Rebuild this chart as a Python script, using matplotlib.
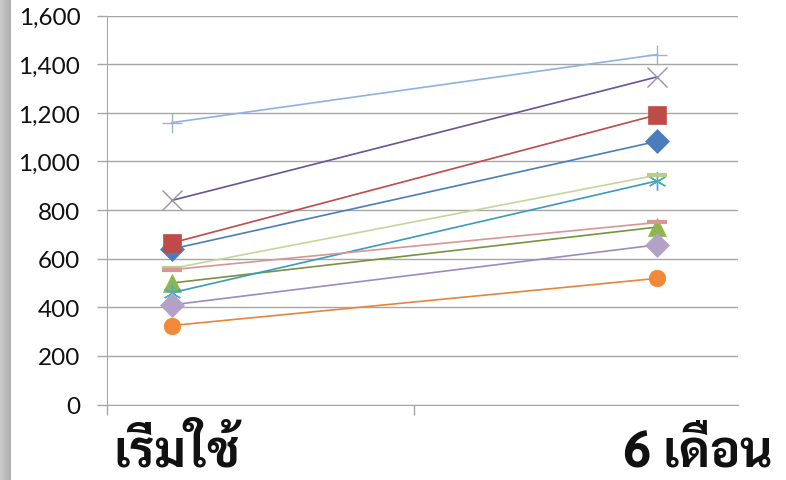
import matplotlib
matplotlib.use("Agg")
import matplotlib.pyplot as plt
import numpy as np
from matplotlib import font_manager

# pick a looped Thai font that is installed
names = {f.name for f in font_manager.fontManager.ttflist}
thai_font = next((n for n in ["Sarabun", "IBM Plex Sans Thai Looped", "Noto Sans Thai Looped",
                              "Noto Sans Thai", "Athiti"] if n in names), "DejaVu Sans")

categories = ["เริ่มใช้", "6 เดือน"]
start = [640, 665, 500, 840, 460, 325, 1160, 560, 555, 410]
six_months = [1083, 1192, 730, 1348, 920, 519, 1440, 944, 749, 657]

line_colors = ["#4a7ebb", "#be4b48", "#77933c", "#6b5394", "#3a9cb8", "#e6853a",
               "#8db3e2", "#c3d69b", "#d99694", "#9d8bbf"]
marker_colors = ["#4a7ebb", "#be4b48", "#8fb54f", "#9b93a8", "#4bacc6", "#f0893a",
                 "#9ab3cf", "#b8cf8a", "#d99694", "#b3a2c7"]
markers = ["D", "s", "^", "x", (6, 2, 0), "o", "+", "_", "_", "D"]
sizes = [12, 13, 13, 14, 13, 12, 15, 14, 14, 12]

fig = plt.figure(figsize=(7.86, 4.81), dpi=100)
W, H = 786, 481
ax = fig.add_axes([107 / W, 1 - 405.5 / H, (738 - 107) / W, (405.5 - 16.7) / H])

x = np.arange(len(categories))
for i in range(len(start)):
    thin = markers[i] in ("x", "+", (6, 2, 0))
    ax.plot(x, [start[i], six_months[i]], color=line_colors[i], lw=1.2,
            marker=markers[i], ms=sizes[i], mfc=marker_colors[i], mec=marker_colors[i],
            mew=1.0 if thin else (3 if markers[i] == "_" else 0.5), zorder=3)

ax.set_xlim(-0.134, 1.167)
ax.set_ylim(0, 1600)
ax.set_yticks(range(0, 1601, 200))
ax.set_yticklabels([f"{v:,}" for v in range(0, 1601, 200)], fontsize=17.5, fontfamily="Lato")
ax.set_xticks([-0.134, 0.5])
ax.set_xticklabels([])
ax.grid(axis="y", color="#a6a6a6", lw=1)
ax.set_axisbelow(True)
for s in ["top", "right"]:
    ax.spines[s].set_visible(False)
for s in ["left", "bottom"]:
    ax.spines[s].set_color("#a6a6a6")
ax.tick_params(axis="both", color="#a6a6a6", length=7.2, width=1, pad=12, labelcolor="#111111")

# category labels as large Thai text
label_x = [0.01, 1.085]
for xi, lab in zip(label_x, categories):
    ax.text(xi, -0.158, lab, transform=ax.get_xaxis_transform(), ha="center", va="baseline",
            fontsize=36, fontweight="bold", family=[thai_font, "DejaVu Sans"], color="#111111")

# gray strip on the left edge
strip = fig.add_axes([0, 0, 11 / W, 1])
strip.imshow(np.linspace(0.80, 0.68, 20).reshape(1, -1), cmap="gray", vmin=0, vmax=1,
             aspect="auto", extent=[0, 1, 0, 1])
strip.axis("off")

fig.savefig("out.png", dpi=100)
